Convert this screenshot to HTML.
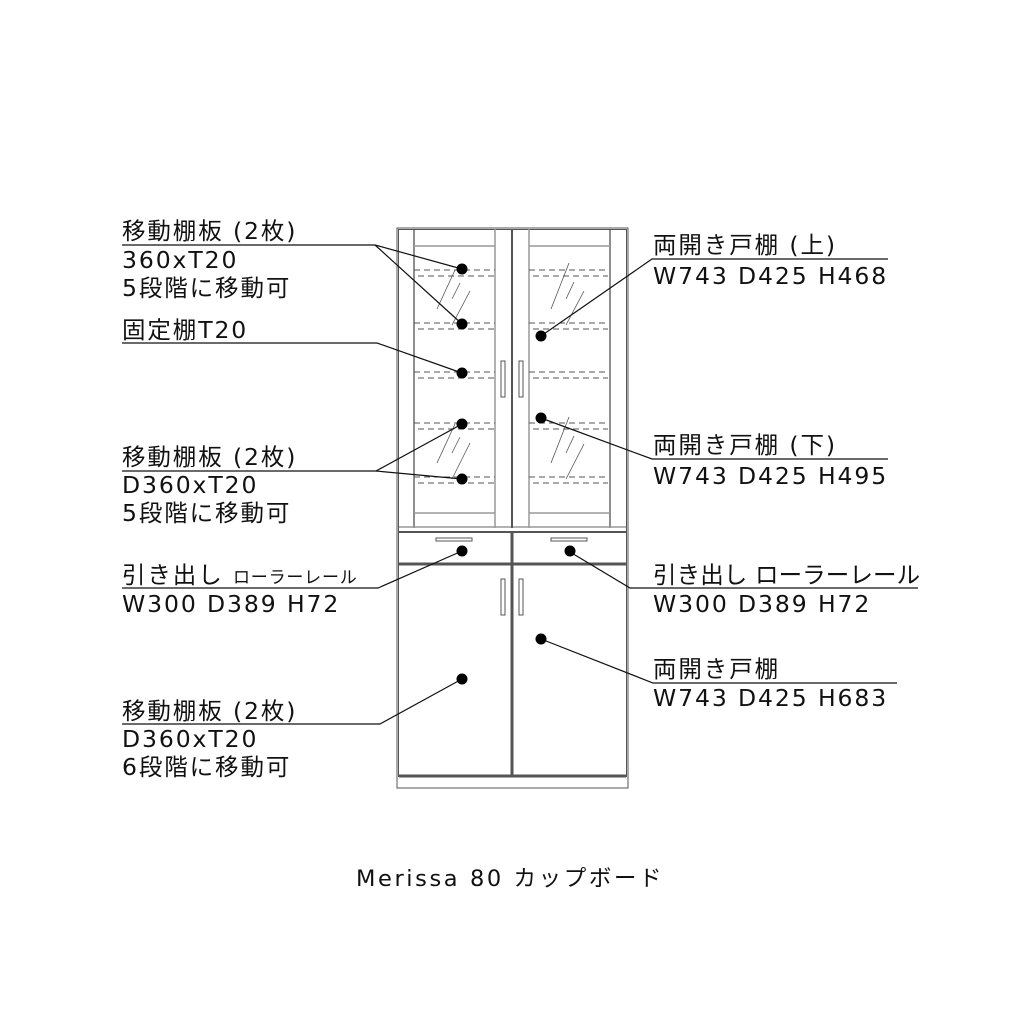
<!DOCTYPE html>
<html><head><meta charset="utf-8"><style>
html,body{margin:0;padding:0;background:#fff}
svg{display:block}
text{font-family:"DejaVu Sans","Noto Sans CJK JP",sans-serif;font-size:23.5px;fill:#111;letter-spacing:1.9px}
</style></head><body>
<svg width="1024" height="1024" viewBox="0 0 1024 1024" xmlns="http://www.w3.org/2000/svg">
<rect width="1024" height="1024" fill="#fff"/>
<g fill="none" stroke="#555" stroke-width="1">
<rect x="397" y="228" width="231" height="560"/>
<rect x="398.5" y="229.5" width="228" height="547"/>
</g>
<g fill="none" stroke="#444" stroke-width="1.2">
<line x1="414" y1="229" x2="414" y2="528"/>
<line x1="610" y1="229" x2="610" y2="528"/>
</g>
<g fill="none" stroke="#999" stroke-width="1.5">
<line x1="414" y1="246" x2="495" y2="246"/>
<line x1="529" y1="246" x2="610" y2="246"/>
<line x1="414" y1="513" x2="495" y2="513"/>
<line x1="529" y1="513" x2="610" y2="513"/>
<line x1="495" y1="229" x2="495" y2="528"/>
<line x1="529" y1="229" x2="529" y2="528"/>
<line x1="399" y1="527" x2="626" y2="527"/>
</g>
<line x1="512" y1="229" x2="512" y2="528" stroke="#555" stroke-width="2"/>
<rect x="501" y="361" width="4" height="36" fill="#fff" stroke="#555" stroke-width="1"/>
<rect x="519" y="361" width="4" height="36" fill="#fff" stroke="#555" stroke-width="1"/>
<g stroke="#555" stroke-width="1" stroke-dasharray="6,4">
<line x1="414" y1="270" x2="495" y2="270"/><line x1="418" y1="276" x2="495" y2="276"/>
<line x1="529" y1="270" x2="608" y2="270"/><line x1="533" y1="276" x2="608" y2="276"/>
<line x1="414" y1="323" x2="495" y2="323"/><line x1="418" y1="329" x2="495" y2="329"/>
<line x1="529" y1="323" x2="608" y2="323"/><line x1="533" y1="329" x2="608" y2="329"/>
<line x1="414" y1="372" x2="495" y2="372"/><line x1="418" y1="378" x2="495" y2="378"/>
<line x1="529" y1="372" x2="608" y2="372"/><line x1="533" y1="378" x2="608" y2="378"/>
<line x1="414" y1="423" x2="495" y2="423"/><line x1="418" y1="429" x2="495" y2="429"/>
<line x1="529" y1="423" x2="608" y2="423"/><line x1="533" y1="429" x2="608" y2="429"/>
<line x1="414" y1="477" x2="495" y2="477"/><line x1="418" y1="483" x2="495" y2="483"/>
<line x1="529" y1="477" x2="608" y2="477"/><line x1="533" y1="483" x2="608" y2="483"/>
</g>
<g stroke="#555" stroke-width="0.8">
<line x1="437" y1="309" x2="455" y2="270"/><line x1="452" y1="299" x2="460" y2="283"/><line x1="452" y1="325" x2="470" y2="291"/>
<line x1="437" y1="463" x2="455" y2="424"/><line x1="452" y1="453" x2="460" y2="437"/><line x1="452" y1="479" x2="470" y2="443"/>
<line x1="551" y1="309" x2="569" y2="263"/><line x1="566" y1="299" x2="574" y2="282"/><line x1="566" y1="325" x2="584" y2="291"/>
<line x1="551" y1="463" x2="569" y2="417"/><line x1="566" y1="453" x2="574" y2="436"/><line x1="566" y1="479" x2="584" y2="444"/>
</g>
<g stroke="#555" fill="none">
<line x1="399" y1="532" x2="626" y2="532" stroke-width="2"/>
<line x1="399" y1="564" x2="626" y2="564" stroke-width="3"/>
<line x1="512" y1="532" x2="512" y2="777" stroke-width="3"/>
<line x1="399" y1="776" x2="626" y2="776" stroke-width="3"/>
</g>
<rect x="436" y="538" width="36" height="3" fill="#fff" stroke="#555" stroke-width="1"/>
<rect x="551" y="538" width="36" height="3" fill="#fff" stroke="#555" stroke-width="1"/>
<rect x="501" y="579" width="4" height="36" fill="#fff" stroke="#555" stroke-width="1"/>
<rect x="519" y="579" width="4" height="36" fill="#fff" stroke="#555" stroke-width="1"/>
<g stroke="#111" stroke-width="1.2" fill="none">
<polyline points="122,245 375,245 462,269"/>
<line x1="375" y1="245" x2="462" y2="324"/>
<polyline points="122,343 377,343 462,373"/>
<polyline points="122,471 376,471 462,424"/>
<line x1="376" y1="471" x2="462" y2="479"/>
<polyline points="122,588 378,588 462,551"/>
<polyline points="122,724 380,724 462,679"/>
<polyline points="888,259 652,259 541,336"/>
<polyline points="888,459 652,459 541,418"/>
<polyline points="918,588 630,588 570,552"/>
<polyline points="897,683 653,683 541,639"/>
</g>
<g fill="#000">
<circle cx="462" cy="269" r="5.5"/><circle cx="462" cy="324" r="5.5"/><circle cx="462" cy="373" r="5.5"/>
<circle cx="462" cy="424" r="5.5"/><circle cx="462" cy="479" r="5.5"/>
<circle cx="541" cy="336" r="5.5"/><circle cx="541" cy="418" r="5.5"/>
<circle cx="462" cy="551" r="5.5"/><circle cx="570" cy="551" r="5.5"/>
<circle cx="462" cy="679" r="5.5"/><circle cx="541" cy="639" r="5.5"/>
</g>
<text x="122" y="239">移動棚板 (2枚)</text>
<text x="122" y="268">360xT20</text>
<text x="122" y="296">5段階に移動可</text>
<text x="122" y="338">固定棚T20</text>
<text x="122" y="465">移動棚板 (2枚)</text>
<text x="122" y="493">D360xT20</text>
<text x="122" y="521">5段階に移動可</text>
<text x="122" y="583">引き出し <tspan style="font-size:17px;letter-spacing:0.8px">ローラーレール</tspan></text>
<text x="122" y="612">W300 D389 H72</text>
<text x="122" y="719">移動棚板 (2枚)</text>
<text x="122" y="747">D360xT20</text>
<text x="122" y="775">6段階に移動可</text>
<text x="653" y="253">両開き戸棚 (上)</text>
<text x="653" y="284">W743 D425 H468</text>
<text x="653" y="453">両開き戸棚 (下)</text>
<text x="653" y="484">W743 D425 H495</text>
<text x="653" y="583" style="letter-spacing:0.1px">引き出し ローラーレール</text>
<text x="653" y="612">W300 D389 H72</text>
<text x="653" y="677">両開き戸棚</text>
<text x="653" y="706">W743 D425 H683</text>
<text x="356" y="886" style="font-size:22.5px;letter-spacing:2.6px">Merissa 80 カップボード</text>
</svg>
</body></html>
